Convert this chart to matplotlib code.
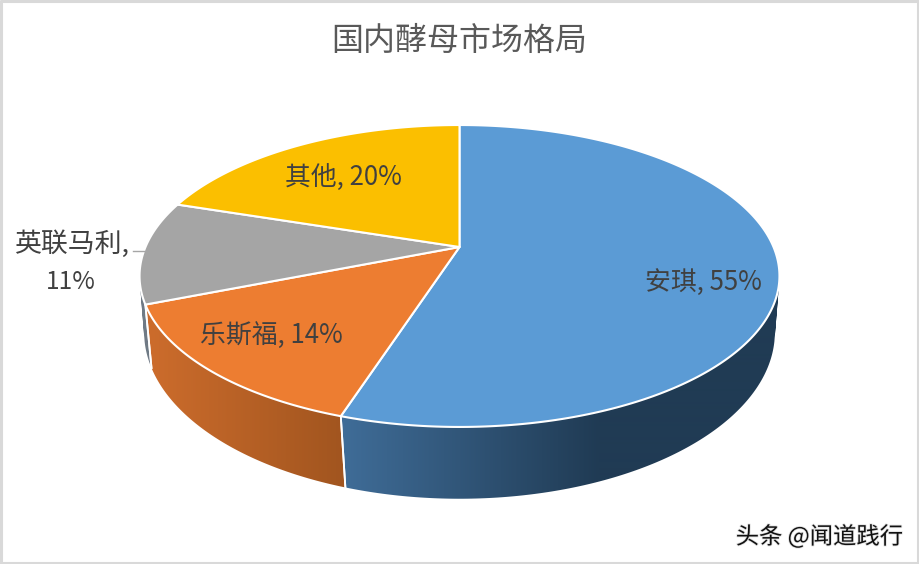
import numpy as np
import matplotlib
matplotlib.use("Agg")
import matplotlib.pyplot as plt
import matplotlib.patheffects as pe
from matplotlib.patches import PathPatch
from matplotlib.path import Path
from matplotlib.colors import LinearSegmentedColormap

plt.rcParams['font.family'] = ['Noto Sans CJK SC', 'DejaVu Sans']

title = '国内酵母市场格局'
categories = ['安琪', '乐斯福', '英联马利', '其他']
values = [55, 14, 11, 20]
top_colors = ['#5B9BD5', '#ED7D31', '#A5A5A5', '#FBBF00']
side_left = ['#3F6C97', '#CC6C2C', '#6F7A85', '#8A6A00']
side_right = ['#203B54', '#A1551F', '#6F7A85', '#8A6A00']
side_span = [(345, 600), (150, 345), (140, 150), (150, 460)]
label_xy = [(703, 282), (271, 336), (343, 178)]
label_idx = [0, 1, 3]

W, H = 919, 564
fig = plt.figure(figsize=(W / 100, H / 100), dpi=100, facecolor='white')
ax = fig.add_axes([0, 0, 1, 1])


def project(theta, cx, cy, bx, ay, k):
    """Perspective view of a circle; theta runs clockwise from 12 o'clock."""
    u, v = np.sin(theta), np.cos(theta)
    w = 1 + k * v
    return cx + bx * u / w, cy - ay * v / w


TOP = dict(cx=459.5, cy=247, bx=314, ay=145.4, k=0.192)
LOW = dict(cx=459.5, cy=304.5, bx=311, ay=162, k=0.166)

edges = np.radians(np.concatenate([[0], np.cumsum(values)]) / sum(values) * 360)


def wall_path(t):
    """Compound path of consistently oriented quads between the two rims."""
    x1, y1 = project(t, **TOP)
    x2, y2 = project(t, **LOW)
    verts, codes = [], []
    for j in range(len(t) - 1):
        q = np.array([(x1[j], y1[j]), (x1[j + 1], y1[j + 1]), (x2[j + 1], y2[j + 1]), (x2[j], y2[j])])
        area = np.sum(q[:, 0] * np.roll(q[:, 1], -1) - np.roll(q[:, 0], -1) * q[:, 1])
        if area < 0:
            q = q[::-1]
        verts.extend(q.tolist() + [q[0].tolist()])
        codes.extend([Path.MOVETO, Path.LINETO, Path.LINETO, Path.LINETO, Path.CLOSEPOLY])
    return Path(verts, codes)


# side walls, back to front, each one a horizontal gradient clipped to its wall
for i in [3, 2, 1, 0]:
    t = np.linspace(edges[i], edges[i + 1], 300)
    x0, xe = side_span[i]
    cmap = LinearSegmentedColormap.from_list('side', [side_left[i], side_right[i]])
    grid_x = np.arange(0, W, 1.0)
    grad = np.clip((grid_x + 0.5 - x0) / (xe - x0), 0, 1)[None, :]
    im = ax.imshow(grad, cmap=cmap, vmin=0, vmax=1, extent=(0, W, H, 0), aspect='auto',
                   interpolation='bilinear', zorder=2)
    clip = PathPatch(wall_path(t), transform=ax.transData, facecolor='none', edgecolor='none')
    ax.add_patch(clip)
    im.set_clip_path(clip)
    # white seam at the visible ends of the wall
    for a in (edges[i], edges[i + 1]):
        if np.sin(a) < 0 and np.cos(a) < 0.1:
            xa, ya = project(a, **TOP)
            xb, yb = project(a, **LOW)
            ax.plot([xa, xb], [ya, yb], color='white', lw=1.3, zorder=3)

# top faces
for i in range(len(values)):
    t = np.linspace(edges[i], edges[i + 1], 300)
    x, y = project(t, **TOP)
    cx, cy = TOP['cx'], TOP['cy']
    ax.fill(np.r_[cx, x], np.r_[cy, y], facecolor=top_colors[i], edgecolor='white',
            linewidth=1.5, joinstyle='round', zorder=4)

# labels
for xy, i in zip(label_xy, label_idx):
    ax.text(xy[0], xy[1], f'{categories[i]}, {values[i]}%', ha='center', va='center',
            fontsize=18.6, color='#404040', zorder=6)
ax.text(72, 244, f'{categories[2]},', ha='center', va='center', fontsize=19.4, color='#404040', zorder=6)
ax.text(71, 282, f'{values[2]}%', ha='center', va='center', fontsize=17.6, color='#404040', zorder=6)
ax.plot([133, 144], [251, 251], color='#A6A6A6', lw=1, zorder=5)

ax.text(459, 41, title, ha='center', va='center', fontsize=23, color='#595959', zorder=6)

ax.text(819.5, 536.5, '头条 @闻道践行', ha='center', va='center', fontsize=16.8, color='#111111', zorder=6,
        path_effects=[pe.withStroke(linewidth=1.2, foreground='#E2E2E2')])

# thin grey picture frame
for xs, ys in [((0, W), (1, 1)), ((0, W), (H - 1, H - 1)), ((1, 1), (0, H)), ((W - 1.5, W - 1.5), (0, H))]:
    ax.plot(xs, ys, color='#D9D9D9', lw=2.2, zorder=7, solid_capstyle='butt')

ax.set_xlim(0, W)
ax.set_ylim(H, 0)
ax.axis('off')

fig.savefig('out.png', dpi=100, facecolor='white')
